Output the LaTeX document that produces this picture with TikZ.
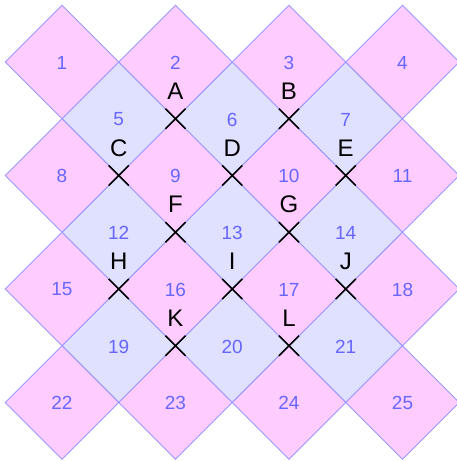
\documentclass[tikz,border=0pt]{standalone}
\usepackage{fontspec}
\setmainfont{Liberation Sans}
\usetikzlibrary{shapes.misc}
\definecolor{pinkfill}{RGB}{255,204,255}
\definecolor{bluefill}{RGB}{224,224,255}
\definecolor{edgecol}{RGB}{153,153,255}
\definecolor{numcol}{RGB}{102,102,255}
\begin{document}
\begin{tikzpicture}[x=1pt,y=-1pt,
  pinktile/.style={fill=pinkfill,draw=edgecol,line width=0.9pt,line join=miter},
  bluetile/.style={fill=bluefill,draw=edgecol,line width=0.9pt,line join=miter},
  num/.style={text=numcol,font=\fontsize{19}{21}\selectfont,inner sep=0pt,anchor=center},
  xmark/.style={cross out,draw=black,line width=1.7pt,minimum size=18.5pt,inner sep=0pt},
  letter/.style={text=black,font=\fontsize{24}{26}\selectfont,inner sep=0pt,anchor=base}]
\useasboundingbox (0,0) rectangle (457,461);
\def\h{56.75}
% blue tiles
\foreach \i in {0,1,2}{\foreach \j in {0,1,2}{
  \draw[bluetile] ({118.75+113.5*\i},{118.75+113.5*\j}) +(-\h,0) -- +(0,-\h) -- +(\h,0) -- +(0,\h) -- cycle;
}}
% pink tiles
\foreach \i in {0,1,2,3}{\foreach \j in {0,1,2,3}{
  \draw[pinktile] ({62+113.5*\i},{62+113.5*\j}) +(-\h,0) -- +(0,-\h) -- +(\h,0) -- +(0,\h) -- cycle;
}}
% numbers of pink tiles
\foreach \i in {0,1,2,3}{\foreach \j in {0,1,2,3}{
  \pgfmathtruncatemacro{\n}{7*\j+\i+1}
  \node[num] (n\n) at ({62+113.5*\i},{62.5+113.5*\j}) {\n};
}}
% numbers of blue tiles
\foreach \i in {0,1,2}{\foreach \j in {0,1,2}{
  \pgfmathtruncatemacro{\n}{7*\j+\i+5}
  \node[num] (n\n) at ({118.75+113.5*\i},{119.5+113.5*\j}) {\n};
}}
% crosses and their letters
\foreach \L/\x/\y in {A/175.5/118.75, B/289/118.75,
  C/118.75/175.5, D/232.25/175.5, E/345.75/175.5,
  F/175.5/232.25, G/289/232.25,
  H/118.75/289, I/232.25/289, J/345.75/289,
  K/175.5/345.75, L/289/345.75}{
  \node[xmark] (x\L) at (\x,\y) {};
  \node[letter] (l\L) at (\x,{\y-19.5}) {\L};
}
\end{tikzpicture}
\end{document}
